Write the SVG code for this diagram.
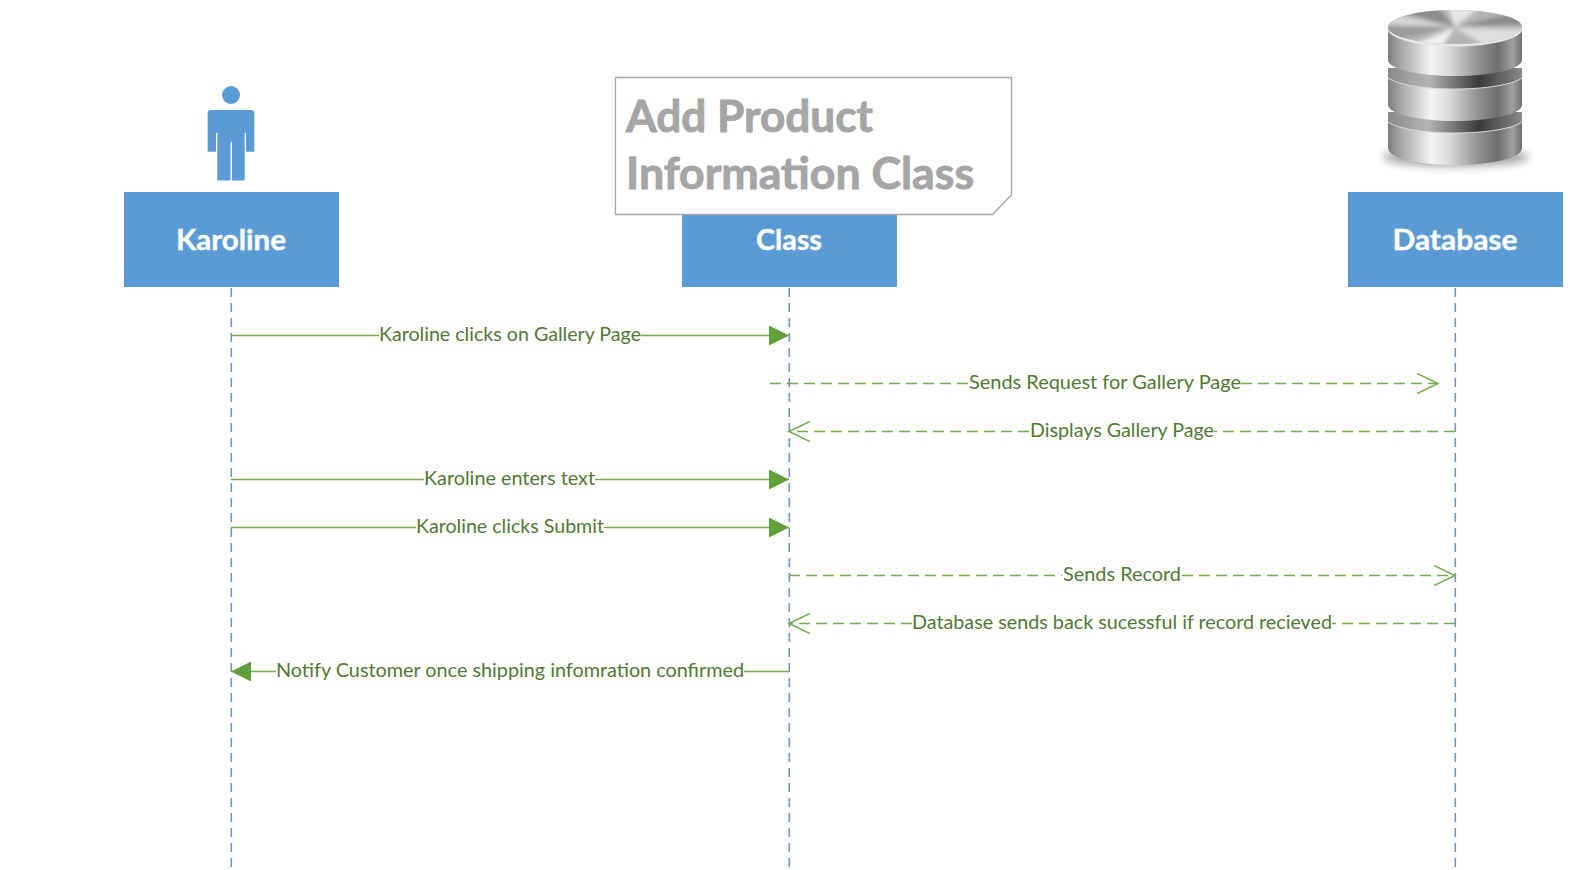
<svg xmlns="http://www.w3.org/2000/svg" width="1575" height="870" viewBox="0 0 1575 870">
<style>
.box{fill:#5B9BD5}
.boxt{font:bold 29px Lato,"Liberation Sans",sans-serif;fill:#fff;text-anchor:middle;stroke:#fff;stroke-width:.4}
.life{stroke:#6c97c4;stroke-width:1.6;stroke-dasharray:9 6;fill:none}
.msg{stroke:#70AD47;stroke-width:1.5;fill:none}
.dash{stroke-dasharray:11 6}
.lbl{font:20px Lato,"Liberation Sans",sans-serif;fill:#4f7a33}
.note{font:bold 44px Lato,"Liberation Sans",sans-serif;fill:#A5A5A5;stroke:#A5A5A5;stroke-width:.9}
</style>
<defs>
<marker id="fa" markerUnits="userSpaceOnUse" markerWidth="22" markerHeight="22" refX="20" refY="10" orient="auto-start-reverse"><path d="M0 0L20 10L0 20Z" fill="#5F9E3A"/></marker>
<marker id="oa" markerUnits="userSpaceOnUse" markerWidth="24" markerHeight="24" refX="21" refY="11" orient="auto-start-reverse"><path d="M0 1L21 11L0 21" fill="none" stroke="#70AD47" stroke-width="1.5"/></marker>
<linearGradient id="side" x1="0" x2="1" y1="0" y2="0">
<stop offset="0" stop-color="#7d7d7d"/><stop offset=".1" stop-color="#a8a8a8"/><stop offset=".32" stop-color="#f4f4f4"/><stop offset=".45" stop-color="#dcdcdc"/><stop offset=".68" stop-color="#8f8f8f"/><stop offset=".82" stop-color="#6e6e6e"/><stop offset=".93" stop-color="#a0a0a0"/><stop offset="1" stop-color="#6f6f6f"/>
</linearGradient>
<linearGradient id="gap" x1="0" x2="1" y1="0" y2="0">
<stop offset="0" stop-color="#8a8a8a"/><stop offset=".3" stop-color="#b5b5b5"/><stop offset=".68" stop-color="#3a3a3a"/><stop offset="1" stop-color="#8a8a8a"/>
</linearGradient>
<clipPath id="topc"><ellipse cx="1455" cy="27" rx="67" ry="17"/></clipPath>
<filter id="b3" x="-30%" y="-80%" width="160%" height="260%"><feGaussianBlur stdDeviation="5"/></filter>
<filter id="b1" x="-20%" y="-20%" width="140%" height="140%"><feGaussianBlur stdDeviation="2"/></filter>
</defs>
<rect width="1575" height="870" fill="#fff"/>

<g id="lifelines">
<path class="life" d="M231.300 288V870"/>
<path class="life" d="M789.300 288V870"/>
<path class="life" d="M1455.300 288V870"/>
</g>

<g id="karoline">
<circle cx="231" cy="95" r="9" fill="#5B9BD5"/>
<path class="box" d="M211 110H251Q254.300 110 254.300 113V151.700H246V133H244.700V180.500H232V142H230.500V180.500H217.300V133H216V151.700H207.700V113Q207.700 110 211 110Z"/>
<rect class="box" x="124" y="192" width="215" height="95"/>
<text class="boxt" x="231" y="249.500" textLength="110" lengthAdjust="spacingAndGlyphs">Karoline</text>
</g>

<g id="class">
<rect class="box" x="682" y="192" width="215" height="95"/>
<text class="boxt" x="789" y="249.500" textLength="66" lengthAdjust="spacingAndGlyphs">Class</text>
</g>

<g id="note">
<path d="M615.500 77.500H1011.500V195L992.500 214.500H615.500Z" fill="#fff" stroke="#A5A5A5" stroke-width="1.300"/>
<text class="note" x="626" y="131.500" textLength="247" lengthAdjust="spacingAndGlyphs">Add Product</text>
<text class="note" x="626" y="188.500" textLength="348" lengthAdjust="spacingAndGlyphs">Information Class</text>
</g>

<g id="database">
<g id="db-icon">
<ellipse cx="1456" cy="157" rx="73" ry="9" fill="#000" opacity=".4" filter="url(#b3)"/>
<path d="M1388 112V148C1388 158 1418 165 1455 165S1522 158 1522 148V112Z" fill="url(#side)"/>
<path d="M1388 112V122C1398 129 1425 133 1455 133S1512 129 1522 122V112Z" fill="url(#gap)"/>
<path d="M1388 122C1398 129 1425 133 1455 133S1512 129 1522 122" fill="none" stroke="#dadada" stroke-width="1"/>
<path d="M1388 68V105C1388 114 1418 121 1455 121S1522 114 1522 105V68Z" fill="url(#side)"/>
<path d="M1388 68V78C1398 85 1425 89 1455 89S1512 85 1522 78V68Z" fill="url(#gap)"/>
<path d="M1388 78C1398 85 1425 89 1455 89S1512 85 1522 78" fill="none" stroke="#dadada" stroke-width="1"/>
<path d="M1388 28V60C1388 69 1418 76 1455 76S1522 69 1522 60V28Z" fill="url(#side)"/>
<ellipse cx="1455" cy="28.500" rx="67.500" ry="18" fill="#e6e6e6"/>
<g clip-path="url(#topc)">
<rect x="1385" y="5" width="140" height="45" fill="#b4b4b4"/>
<g filter="url(#b1)">
<path d="M1455 27L1375 5H1435Z" fill="#8c8c8c"/>
<path d="M1455 27L1445 0H1490Z" fill="#e4e4e4"/>
<path d="M1455 27L1535 8V24Z" fill="#8a8a8a"/>
<path d="M1455 27L1535 30V50H1490Z" fill="#dedede"/>
<path d="M1455 27L1440 50H1400Z" fill="#f0f0f0"/>
<path d="M1455 27L1375 26V44Z" fill="#9a9a9a"/>
<path d="M1455 27L1380 12L1375 24Z" fill="#d8d8d8"/>
</g>
</g>
</g>
<rect class="box" x="1348" y="192" width="215" height="95"/>
<text class="boxt" x="1455" y="249.500" textLength="125" lengthAdjust="spacingAndGlyphs">Database</text>
</g>

<g id="connectors">
<path class="msg" d="M231 335.500H379M641 335.500H789" marker-end="url(#fa)"/>
<path class="msg dash" d="M770 383.500H968M1241 383.500H1438" marker-end="url(#oa)"/>
<path class="msg dash" d="M1455 431.500H1214M1029 431.500H789" marker-end="url(#oa)"/>
<path class="msg" d="M231 479.500H424M595 479.500H789" marker-end="url(#fa)"/>
<path class="msg" d="M231 527.500H416M604 527.500H789" marker-end="url(#fa)"/>
<path class="msg dash" d="M789 575.500H1062M1182 575.500H1455" marker-end="url(#oa)"/>
<path class="msg dash" d="M1455 623.500H1332M912 623.500H789" marker-end="url(#oa)"/>
<path class="msg" d="M789 671.500H744M276 671.500H231" marker-end="url(#fa)"/>
</g>

<g id="labels">
<text class="lbl" x="379" y="341" textLength="262" lengthAdjust="spacingAndGlyphs">Karoline clicks on Gallery Page</text>
<text class="lbl" x="969" y="389" textLength="272" lengthAdjust="spacingAndGlyphs">Sends Request for Gallery Page</text>
<text class="lbl" x="1030" y="437" textLength="184" lengthAdjust="spacingAndGlyphs">Displays Gallery Page</text>
<text class="lbl" x="424" y="485" textLength="171" lengthAdjust="spacingAndGlyphs">Karoline enters text</text>
<text class="lbl" x="416" y="533" textLength="188" lengthAdjust="spacingAndGlyphs">Karoline clicks Submit</text>
<text class="lbl" x="1063" y="581" textLength="118" lengthAdjust="spacingAndGlyphs">Sends Record</text>
<text class="lbl" x="912" y="629" textLength="420" lengthAdjust="spacingAndGlyphs">Database sends back sucessful if record recieved</text>
<text class="lbl" x="276" y="677" textLength="468" lengthAdjust="spacingAndGlyphs">Notify Customer once shipping infomration confirmed</text>
</g>
</svg>
